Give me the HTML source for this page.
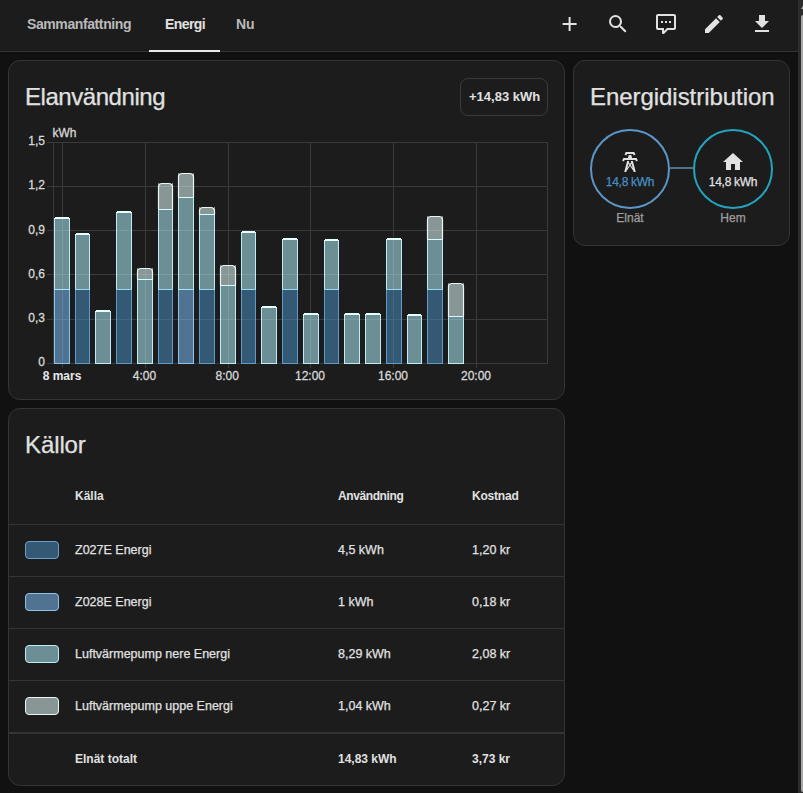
<!DOCTYPE html>
<html><head><meta charset="utf-8">
<style>
html,body{margin:0;padding:0}
body{width:803px;height:793px;background:#111111;overflow:hidden;position:relative;font-family:"Liberation Sans",sans-serif;color:#e1e1e1}
.t{position:absolute;line-height:1;white-space:nowrap;-webkit-text-stroke:0.25px currentColor}
.b{font-weight:700;-webkit-text-stroke:0}
.hdr{position:absolute;left:0;top:0;width:798px;height:51px;background:#1c1c1c;border-bottom:1px solid #343434}
.card{position:absolute;box-sizing:border-box;background:#1c1c1c;border:1px solid #343434;border-radius:12px}
.div{position:absolute;left:9px;width:555px;height:1px;background:#343434}
.sw{position:absolute;left:25px;width:34px;height:18px;box-sizing:border-box;border:1px solid;border-radius:4px}
.circ{position:absolute;box-sizing:border-box;width:80px;height:80px;border-radius:50%;border:2px solid}
svg{position:absolute;left:0;top:0}
</style></head>
<body>
<!-- header -->
<div class="hdr"></div>
<div class="t b" style="left:27px;top:17px;font-size:14px;color:#bababa;letter-spacing:-0.4px">Sammanfattning</div>
<div class="t b" style="left:165px;top:17px;font-size:14px;color:#e1e1e1;letter-spacing:-0.6px">Energi</div>
<div class="t b" style="left:236px;top:17px;font-size:14px;color:#bababa">Nu</div>
<div style="position:absolute;left:149px;top:50px;width:71px;height:2px;background:#e8e8e8"></div>

<!-- scrollbar -->
<div style="position:absolute;left:798px;top:0;width:5px;height:793px;background:#2d2d2d"></div>
<div style="position:absolute;left:801px;top:15px;width:4px;height:777px;background:#a8a8a8;border-radius:2px"></div>
<div style="position:absolute;left:801px;top:6px;width:0;height:0;border-left:2px solid transparent;border-right:2px solid transparent;border-bottom:3px solid #b0b0b0"></div>

<!-- cards -->
<div class="card" style="left:8px;top:60px;width:557px;height:340px"></div>
<div class="card" style="left:573px;top:60px;width:217px;height:186px"></div>
<div class="card" style="left:8px;top:408px;width:557px;height:378px"></div>

<!-- card1 -->
<div class="t" style="left:25px;top:85px;font-size:24px;letter-spacing:-0.45px">Elanvändning</div>
<div style="position:absolute;left:460px;top:78px;width:88px;height:38px;box-sizing:border-box;border:1px solid #3a3a3a;border-radius:8px"></div>
<div class="t b" style="left:469px;top:90px;font-size:13px">+14,83 kWh</div>

<!-- card2 -->
<div class="t" style="left:590px;top:85px;font-size:24px;letter-spacing:-0.05px">Energidistribution</div>
<div class="circ" style="left:590px;top:129px;border-color:#5b96c8"></div>
<div class="circ" style="left:693px;top:129px;border-color:#22a4c0"></div>
<div style="position:absolute;left:670px;top:167px;width:23px;height:2px;background:#566f82"></div>
<div class="t" style="left:590px;width:80px;text-align:center;top:176px;font-size:12px;color:#488fc2;letter-spacing:-0.3px">14,8 kWh</div>
<div class="t" style="left:693px;width:80px;text-align:center;top:176px;font-size:12px;color:#e1e1e1;letter-spacing:-0.3px">14,8 kWh</div>
<div class="t" style="left:590px;width:80px;text-align:center;top:212px;font-size:12px;color:#9e9e9e">Elnät</div>
<div class="t" style="left:693px;width:80px;text-align:center;top:212px;font-size:12px;color:#9e9e9e">Hem</div>

<!-- card3 -->
<div class="t" style="left:25px;top:433px;font-size:24px;letter-spacing:-0.1px">Källor</div>
<div class="t b" style="left:75px;top:490px;font-size:12px">Källa</div>
<div class="t b" style="left:338px;top:490px;font-size:12px;letter-spacing:-0.4px">Användning</div>
<div class="t b" style="left:472px;top:490px;font-size:12px;letter-spacing:-0.2px">Kostnad</div>
<div class="div" style="top:524px"></div>
<div class="div" style="top:576px"></div>
<div class="div" style="top:628px"></div>
<div class="div" style="top:680px"></div>
<div class="div" style="top:732px;height:2px"></div>

<div class="sw" style="top:541px;border-color:#6e9fc8;background:#488fc28a"></div>
<div class="sw" style="top:593px;border-color:#8cc3ee;background:#7dbff58a"></div>
<div class="sw" style="top:645px;border-color:#bdecf2;background:#b1f2ff8a"></div>
<div class="sw" style="top:697px;border-color:#e8f6f4;background:#e6ffff8a"></div>

<div class="t" style="left:75px;top:543.5px;font-size:12.5px">Z027E Energi</div>
<div class="t" style="left:338px;top:543.5px;font-size:12.5px">4,5 kWh</div>
<div class="t" style="left:472px;top:543.5px;font-size:12.5px">1,20 kr</div>
<div class="t" style="left:75px;top:595.5px;font-size:12.5px">Z028E Energi</div>
<div class="t" style="left:338px;top:595.5px;font-size:12.5px">1 kWh</div>
<div class="t" style="left:472px;top:595.5px;font-size:12.5px">0,18 kr</div>
<div class="t" style="left:75px;top:647.5px;font-size:12.5px">Luftvärmepump nere Energi</div>
<div class="t" style="left:338px;top:647.5px;font-size:12.5px">8,29 kWh</div>
<div class="t" style="left:472px;top:647.5px;font-size:12.5px">2,08 kr</div>
<div class="t" style="left:75px;top:699.5px;font-size:12.5px">Luftvärmepump uppe Energi</div>
<div class="t" style="left:338px;top:699.5px;font-size:12.5px">1,04 kWh</div>
<div class="t" style="left:472px;top:699.5px;font-size:12.5px">0,27 kr</div>
<div class="t b" style="left:75px;top:753px;font-size:12px">Elnät totalt</div>
<div class="t b" style="left:338px;top:753px;font-size:12px">14,83 kWh</div>
<div class="t b" style="left:472px;top:753px;font-size:12px">3,73 kr</div>

<!-- icons & chart -->
<svg id="ov" width="803" height="793" viewBox="0 0 803 793">
 <g fill="#e1e1e1">
  <g transform="translate(557.6,12)"><path d="M19,13H13V19H11V13H5V11H11V5H13V11H19V13Z"/></g>
  <g transform="translate(606,12)"><path d="M9.5,3A6.5,6.5 0 0,1 16,9.5C16,11.11 15.41,12.59 14.44,13.730L14.71,14H15.5L20.5,19L19,20.5L14,15.5V14.71L13.73,14.44C12.59,15.41 11.11,16 9.5,16A6.5,6.5 0 0,1 3,9.5A6.5,6.5 0 0,1 9.5,3M9.5,5C7,5 5,7 5,9.5C5,12 7,14 9.5,14C12,14 14,12 14,9.5C14,7 12,5 9.5,5Z"/></g>
  <g transform="translate(654,12)"><path d="M9,22A1,1 0 0,1 8,21V18H4A2,2 0 0,1 2,16V4C2,2.89 2.9,2 4,2H20A2,2 0 0,1 22,4V16A2,2 0 0,1 20,18H13.9L10.2,21.71C10,21.9 9.75,22 9.5,22V22H9M10,16V19.08L13.08,16H20V4H4V16H10M17,11H15V9H17V11M13,11H11V9H13V11M9,11H7V9H9V11Z"/></g>
  <g transform="translate(702,12)"><path d="M20.71,7.04C21.1,6.65 21.1,6 20.71,5.63L18.37,3.29C18,2.9 17.35,2.9 16.96,3.29L15.12,5.12L18.870,8.87M3,17.25V21H6.75L17.81,9.93L14.06,6.18L3,17.25Z"/></g>
  <g transform="translate(750,12)"><path d="M5,20H19V18H5M19,9H15V3H9V9H5L12,16L19,9Z"/></g>
  <g transform="translate(618,150)"><path d="M8.28,5.45L6.5,4.55L7.76,2H16.23L17.5,4.55L15.72,5.44L15,4H9L8.28,5.45M18.62,8H14.090L13.3,5H10.7L9.91,8H5.38L4.1,10.55L5.89,11.44L6.62,10H17.38L18.1,11.45L19.89,10.56L18.62,8M17.77,22H15.7L15.46,21.1L12,15.9L8.53,21.1L8.3,22H6.23L9.12,11H11.19L10.83,12.35L12,14.1L13.16,12.35L12.81,11H14.88L17.77,22M11.4,15L10.5,13.65L9.32,18.13L11.4,15M14.68,18.12L13.5,13.64L12.6,15L14.68,18.12Z"/></g>
  <g transform="translate(721,150)"><path d="M10,20V14H14V20H19V12H22L12,3L2,12H5V20H10Z"/></g>
 </g>
 <g id="chart"><g fill="#3a3a3a" shape-rendering="crispEdges"><rect x="47" y="142" width="501" height="1"/><rect x="47" y="186" width="501" height="1"/><rect x="47" y="230" width="501" height="1"/><rect x="47" y="274" width="501" height="1"/><rect x="47" y="319" width="501" height="1"/><rect x="47" y="363" width="501" height="1"/><rect x="53" y="142" width="1" height="222"/><rect x="547" y="142" width="1" height="222"/><rect x="62" y="142" width="1" height="226"/><rect x="145" y="142" width="1" height="226"/><rect x="228" y="142" width="1" height="226"/><rect x="310" y="142" width="1" height="226"/><rect x="393" y="142" width="1" height="226"/><rect x="476" y="142" width="1" height="226"/></g><g font-family="Liberation Sans" font-size="12" fill="#d8d8d8" stroke="#d8d8d8" stroke-width="0.3"><text x="45" y="365.8" text-anchor="end">0</text><text x="45" y="321.7" text-anchor="end">0,3</text><text x="45" y="277.6" text-anchor="end">0,6</text><text x="45" y="233.5" text-anchor="end">0,9</text><text x="45" y="189.4" text-anchor="end">1,2</text><text x="45" y="145.3" text-anchor="end">1,5</text><text x="52.5" y="137">kWh</text><text x="144.5" y="379.6" text-anchor="middle">4:00</text><text x="227.3" y="379.6" text-anchor="middle">8:00</text><text x="310" y="379.6" text-anchor="middle">12:00</text><text x="393" y="379.6" text-anchor="middle">16:00</text><text x="476" y="379.6" text-anchor="middle">20:00</text><text x="62" y="379.6" text-anchor="middle" font-weight="700" stroke-width="0" fill="#e8e8e8">8 mars</text></g><g shape-rendering="crispEdges"><rect x="55" y="290" width="14" height="73" fill="#7dbff5" fill-opacity="0.54"/><rect x="54" y="289" width="1" height="75" fill="#8cc3ee"/><rect x="69" y="289" width="1" height="75" fill="#8cc3ee"/><rect x="55" y="219" width="14" height="70" fill="#b1f2ff" fill-opacity="0.54"/><rect x="54" y="219" width="1" height="71" fill="#bdecf2"/><rect x="69" y="219" width="1" height="71" fill="#bdecf2"/><rect x="54" y="363" width="16" height="1" fill="#8cc3ee"/><rect x="54" y="289" width="16" height="1" fill="#a4e5fc"/><rect x="55" y="217" width="14" height="1" fill="#e6ffff"/><rect x="54" y="218" width="16" height="1" fill="#e6ffff"/><rect x="76" y="290" width="13" height="73" fill="#488fc2" fill-opacity="0.54"/><rect x="75" y="289" width="1" height="75" fill="#609acb"/><rect x="89" y="289" width="1" height="75" fill="#609acb"/><rect x="76" y="235" width="13" height="54" fill="#b1f2ff" fill-opacity="0.54"/><rect x="75" y="235" width="1" height="55" fill="#bdecf2"/><rect x="89" y="235" width="1" height="55" fill="#bdecf2"/><rect x="75" y="363" width="15" height="1" fill="#609acb"/><rect x="75" y="289" width="15" height="1" fill="#97d9f0"/><rect x="76" y="233" width="13" height="1" fill="#e6ffff"/><rect x="75" y="234" width="15" height="1" fill="#e6ffff"/><rect x="96" y="312" width="14" height="51" fill="#b1f2ff" fill-opacity="0.54"/><rect x="95" y="312" width="1" height="52" fill="#bdecf2"/><rect x="110" y="312" width="1" height="52" fill="#bdecf2"/><rect x="95" y="363" width="16" height="1" fill="#bdecf2"/><rect x="96" y="310" width="14" height="1" fill="#e6ffff"/><rect x="95" y="311" width="16" height="1" fill="#e6ffff"/><rect x="117" y="290" width="14" height="73" fill="#488fc2" fill-opacity="0.54"/><rect x="116" y="289" width="1" height="75" fill="#609acb"/><rect x="131" y="289" width="1" height="75" fill="#609acb"/><rect x="117" y="213" width="14" height="76" fill="#b1f2ff" fill-opacity="0.54"/><rect x="116" y="213" width="1" height="77" fill="#bdecf2"/><rect x="131" y="213" width="1" height="77" fill="#bdecf2"/><rect x="116" y="363" width="16" height="1" fill="#609acb"/><rect x="116" y="289" width="16" height="1" fill="#97d9f0"/><rect x="117" y="211" width="14" height="1" fill="#e6ffff"/><rect x="116" y="212" width="16" height="1" fill="#e6ffff"/><rect x="138" y="280" width="14" height="83" fill="#b1f2ff" fill-opacity="0.54"/><rect x="137" y="279" width="1" height="85" fill="#bdecf2"/><rect x="152" y="279" width="1" height="85" fill="#bdecf2"/><rect x="138" y="269" width="14" height="10" fill="#e6ffff" fill-opacity="0.54"/><rect x="137" y="268" width="1" height="12" fill="#e8f6f4"/><rect x="152" y="268" width="1" height="12" fill="#e8f6f4"/><rect x="137" y="363" width="16" height="1" fill="#bdecf2"/><rect x="137" y="279" width="16" height="1" fill="#d9fcff"/><rect x="159" y="290" width="13" height="73" fill="#488fc2" fill-opacity="0.54"/><rect x="158" y="289" width="1" height="75" fill="#609acb"/><rect x="172" y="289" width="1" height="75" fill="#609acb"/><rect x="159" y="210" width="13" height="79" fill="#b1f2ff" fill-opacity="0.54"/><rect x="158" y="209" width="1" height="81" fill="#bdecf2"/><rect x="172" y="209" width="1" height="81" fill="#bdecf2"/><rect x="159" y="184" width="13" height="25" fill="#e6ffff" fill-opacity="0.54"/><rect x="158" y="183" width="1" height="27" fill="#e8f6f4"/><rect x="172" y="183" width="1" height="27" fill="#e8f6f4"/><rect x="158" y="363" width="15" height="1" fill="#609acb"/><rect x="158" y="289" width="15" height="1" fill="#97d9f0"/><rect x="158" y="209" width="15" height="1" fill="#d9fcff"/><rect x="179" y="290" width="14" height="73" fill="#7dbff5" fill-opacity="0.54"/><rect x="178" y="289" width="1" height="75" fill="#8cc3ee"/><rect x="193" y="289" width="1" height="75" fill="#8cc3ee"/><rect x="179" y="198" width="14" height="91" fill="#b1f2ff" fill-opacity="0.54"/><rect x="178" y="197" width="1" height="93" fill="#bdecf2"/><rect x="193" y="197" width="1" height="93" fill="#bdecf2"/><rect x="179" y="174" width="14" height="23" fill="#e6ffff" fill-opacity="0.54"/><rect x="178" y="173" width="1" height="25" fill="#e8f6f4"/><rect x="193" y="173" width="1" height="25" fill="#e8f6f4"/><rect x="178" y="363" width="16" height="1" fill="#8cc3ee"/><rect x="178" y="289" width="16" height="1" fill="#a4e5fc"/><rect x="178" y="197" width="16" height="1" fill="#d9fcff"/><rect x="200" y="290" width="14" height="73" fill="#488fc2" fill-opacity="0.54"/><rect x="199" y="289" width="1" height="75" fill="#609acb"/><rect x="214" y="289" width="1" height="75" fill="#609acb"/><rect x="200" y="215" width="14" height="74" fill="#b1f2ff" fill-opacity="0.54"/><rect x="199" y="214" width="1" height="76" fill="#bdecf2"/><rect x="214" y="214" width="1" height="76" fill="#bdecf2"/><rect x="200" y="208" width="14" height="6" fill="#e6ffff" fill-opacity="0.54"/><rect x="199" y="207" width="1" height="8" fill="#e8f6f4"/><rect x="214" y="207" width="1" height="8" fill="#e8f6f4"/><rect x="199" y="363" width="16" height="1" fill="#609acb"/><rect x="199" y="289" width="16" height="1" fill="#97d9f0"/><rect x="199" y="214" width="16" height="1" fill="#d9fcff"/><rect x="221" y="286" width="14" height="77" fill="#b1f2ff" fill-opacity="0.54"/><rect x="220" y="285" width="1" height="79" fill="#bdecf2"/><rect x="235" y="285" width="1" height="79" fill="#bdecf2"/><rect x="221" y="266" width="14" height="19" fill="#e6ffff" fill-opacity="0.54"/><rect x="220" y="265" width="1" height="21" fill="#e8f6f4"/><rect x="235" y="265" width="1" height="21" fill="#e8f6f4"/><rect x="220" y="363" width="16" height="1" fill="#bdecf2"/><rect x="220" y="285" width="16" height="1" fill="#d9fcff"/><rect x="242" y="290" width="13" height="73" fill="#488fc2" fill-opacity="0.54"/><rect x="241" y="289" width="1" height="75" fill="#609acb"/><rect x="255" y="289" width="1" height="75" fill="#609acb"/><rect x="242" y="233" width="13" height="56" fill="#b1f2ff" fill-opacity="0.54"/><rect x="241" y="233" width="1" height="57" fill="#bdecf2"/><rect x="255" y="233" width="1" height="57" fill="#bdecf2"/><rect x="241" y="363" width="15" height="1" fill="#609acb"/><rect x="241" y="289" width="15" height="1" fill="#97d9f0"/><rect x="242" y="231" width="13" height="1" fill="#e6ffff"/><rect x="241" y="232" width="15" height="1" fill="#e6ffff"/><rect x="262" y="308" width="14" height="55" fill="#b1f2ff" fill-opacity="0.54"/><rect x="261" y="308" width="1" height="56" fill="#bdecf2"/><rect x="276" y="308" width="1" height="56" fill="#bdecf2"/><rect x="261" y="363" width="16" height="1" fill="#bdecf2"/><rect x="262" y="306" width="14" height="1" fill="#e6ffff"/><rect x="261" y="307" width="16" height="1" fill="#e6ffff"/><rect x="283" y="290" width="14" height="73" fill="#488fc2" fill-opacity="0.54"/><rect x="282" y="289" width="1" height="75" fill="#609acb"/><rect x="297" y="289" width="1" height="75" fill="#609acb"/><rect x="283" y="240" width="14" height="49" fill="#b1f2ff" fill-opacity="0.54"/><rect x="282" y="240" width="1" height="50" fill="#bdecf2"/><rect x="297" y="240" width="1" height="50" fill="#bdecf2"/><rect x="282" y="363" width="16" height="1" fill="#609acb"/><rect x="282" y="289" width="16" height="1" fill="#97d9f0"/><rect x="283" y="238" width="14" height="1" fill="#e6ffff"/><rect x="282" y="239" width="16" height="1" fill="#e6ffff"/><rect x="304" y="315" width="14" height="48" fill="#b1f2ff" fill-opacity="0.54"/><rect x="303" y="315" width="1" height="49" fill="#bdecf2"/><rect x="318" y="315" width="1" height="49" fill="#bdecf2"/><rect x="303" y="363" width="16" height="1" fill="#bdecf2"/><rect x="304" y="313" width="14" height="1" fill="#e6ffff"/><rect x="303" y="314" width="16" height="1" fill="#e6ffff"/><rect x="325" y="290" width="13" height="73" fill="#488fc2" fill-opacity="0.54"/><rect x="324" y="289" width="1" height="75" fill="#609acb"/><rect x="338" y="289" width="1" height="75" fill="#609acb"/><rect x="325" y="241" width="13" height="48" fill="#b1f2ff" fill-opacity="0.54"/><rect x="324" y="241" width="1" height="49" fill="#bdecf2"/><rect x="338" y="241" width="1" height="49" fill="#bdecf2"/><rect x="324" y="363" width="15" height="1" fill="#609acb"/><rect x="324" y="289" width="15" height="1" fill="#97d9f0"/><rect x="325" y="239" width="13" height="1" fill="#e6ffff"/><rect x="324" y="240" width="15" height="1" fill="#e6ffff"/><rect x="345" y="315" width="14" height="48" fill="#b1f2ff" fill-opacity="0.54"/><rect x="344" y="315" width="1" height="49" fill="#bdecf2"/><rect x="359" y="315" width="1" height="49" fill="#bdecf2"/><rect x="344" y="363" width="16" height="1" fill="#bdecf2"/><rect x="345" y="313" width="14" height="1" fill="#e6ffff"/><rect x="344" y="314" width="16" height="1" fill="#e6ffff"/><rect x="366" y="315" width="14" height="48" fill="#b1f2ff" fill-opacity="0.54"/><rect x="365" y="315" width="1" height="49" fill="#bdecf2"/><rect x="380" y="315" width="1" height="49" fill="#bdecf2"/><rect x="365" y="363" width="16" height="1" fill="#bdecf2"/><rect x="366" y="313" width="14" height="1" fill="#e6ffff"/><rect x="365" y="314" width="16" height="1" fill="#e6ffff"/><rect x="387" y="290" width="14" height="73" fill="#488fc2" fill-opacity="0.54"/><rect x="386" y="289" width="1" height="75" fill="#609acb"/><rect x="401" y="289" width="1" height="75" fill="#609acb"/><rect x="387" y="240" width="14" height="49" fill="#b1f2ff" fill-opacity="0.54"/><rect x="386" y="240" width="1" height="50" fill="#bdecf2"/><rect x="401" y="240" width="1" height="50" fill="#bdecf2"/><rect x="386" y="363" width="16" height="1" fill="#609acb"/><rect x="386" y="289" width="16" height="1" fill="#97d9f0"/><rect x="387" y="238" width="14" height="1" fill="#e6ffff"/><rect x="386" y="239" width="16" height="1" fill="#e6ffff"/><rect x="408" y="316" width="13" height="47" fill="#b1f2ff" fill-opacity="0.54"/><rect x="407" y="316" width="1" height="48" fill="#bdecf2"/><rect x="421" y="316" width="1" height="48" fill="#bdecf2"/><rect x="407" y="363" width="15" height="1" fill="#bdecf2"/><rect x="408" y="314" width="13" height="1" fill="#e6ffff"/><rect x="407" y="315" width="15" height="1" fill="#e6ffff"/><rect x="428" y="290" width="14" height="73" fill="#488fc2" fill-opacity="0.54"/><rect x="427" y="289" width="1" height="75" fill="#609acb"/><rect x="442" y="289" width="1" height="75" fill="#609acb"/><rect x="428" y="240" width="14" height="49" fill="#b1f2ff" fill-opacity="0.54"/><rect x="427" y="239" width="1" height="51" fill="#bdecf2"/><rect x="442" y="239" width="1" height="51" fill="#bdecf2"/><rect x="428" y="217" width="14" height="22" fill="#e6ffff" fill-opacity="0.54"/><rect x="427" y="216" width="1" height="24" fill="#e8f6f4"/><rect x="442" y="216" width="1" height="24" fill="#e8f6f4"/><rect x="427" y="363" width="16" height="1" fill="#609acb"/><rect x="427" y="289" width="16" height="1" fill="#97d9f0"/><rect x="427" y="239" width="16" height="1" fill="#d9fcff"/><rect x="449" y="317" width="14" height="46" fill="#b1f2ff" fill-opacity="0.54"/><rect x="448" y="316" width="1" height="48" fill="#bdecf2"/><rect x="463" y="316" width="1" height="48" fill="#bdecf2"/><rect x="449" y="284" width="14" height="32" fill="#e6ffff" fill-opacity="0.54"/><rect x="448" y="283" width="1" height="34" fill="#e8f6f4"/><rect x="463" y="283" width="1" height="34" fill="#e8f6f4"/><rect x="448" y="363" width="16" height="1" fill="#bdecf2"/><rect x="448" y="316" width="16" height="1" fill="#d9fcff"/></g><g><path d="M137,268h4.0A3.5 3.5 0 0 0 137.5 272.0V268Z M153,268h-4.0A3.5 3.5 0 0 1 152.5 272.0V268Z" fill="#1c1c1c"/><path d="M137.5,279.5V272.0A3.5,3.5 0 0 1 141.0,268.5H149.0A3.5,3.5 0 0 1 152.5,272.0V279.5" fill="none" stroke="#e8f6f4" stroke-width="1.2"/><path d="M158,183h4.0A3.5 3.5 0 0 0 158.5 187.0V183Z M173,183h-4.0A3.5 3.5 0 0 1 172.5 187.0V183Z" fill="#1c1c1c"/><path d="M158.5,209.5V187.0A3.5,3.5 0 0 1 162.0,183.5H169.0A3.5,3.5 0 0 1 172.5,187.0V209.5" fill="none" stroke="#e8f6f4" stroke-width="1.2"/><path d="M178,173h4.0A3.5 3.5 0 0 0 178.5 177.0V173Z M194,173h-4.0A3.5 3.5 0 0 1 193.5 177.0V173Z" fill="#1c1c1c"/><path d="M178.5,197.5V177.0A3.5,3.5 0 0 1 182.0,173.5H190.0A3.5,3.5 0 0 1 193.5,177.0V197.5" fill="none" stroke="#e8f6f4" stroke-width="1.2"/><path d="M199,207h4.0A3.5 3.5 0 0 0 199.5 211.0V207Z M215,207h-4.0A3.5 3.5 0 0 1 214.5 211.0V207Z" fill="#1c1c1c"/><path d="M199.5,214.5V211.0A3.5,3.5 0 0 1 203.0,207.5H211.0A3.5,3.5 0 0 1 214.5,211.0V214.5" fill="none" stroke="#e8f6f4" stroke-width="1.2"/><path d="M220,265h4.0A3.5 3.5 0 0 0 220.5 269.0V265Z M236,265h-4.0A3.5 3.5 0 0 1 235.5 269.0V265Z" fill="#1c1c1c"/><path d="M220.5,285.5V269.0A3.5,3.5 0 0 1 224.0,265.5H232.0A3.5,3.5 0 0 1 235.5,269.0V285.5" fill="none" stroke="#e8f6f4" stroke-width="1.2"/><path d="M427,216h4.0A3.5 3.5 0 0 0 427.5 220.0V216Z M443,216h-4.0A3.5 3.5 0 0 1 442.5 220.0V216Z" fill="#1c1c1c"/><path d="M427.5,239.5V220.0A3.5,3.5 0 0 1 431.0,216.5H439.0A3.5,3.5 0 0 1 442.5,220.0V239.5" fill="none" stroke="#e8f6f4" stroke-width="1.2"/><path d="M448,283h4.0A3.5 3.5 0 0 0 448.5 287.0V283Z M464,283h-4.0A3.5 3.5 0 0 1 463.5 287.0V283Z" fill="#1c1c1c"/><path d="M448.5,316.5V287.0A3.5,3.5 0 0 1 452.0,283.5H460.0A3.5,3.5 0 0 1 463.5,287.0V316.5" fill="none" stroke="#e8f6f4" stroke-width="1.2"/></g></g><!--/chart-->
</svg>
</body></html>
